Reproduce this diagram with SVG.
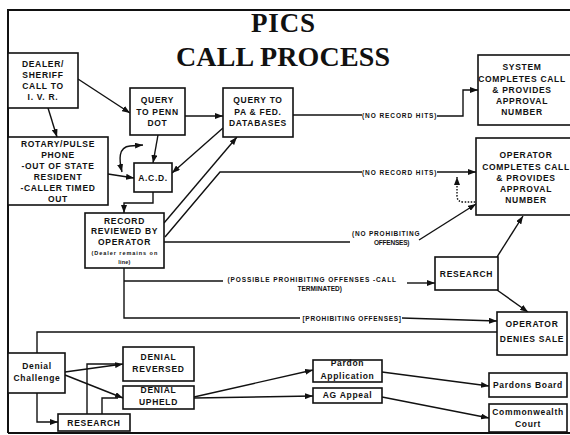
<svg xmlns="http://www.w3.org/2000/svg" width="570" height="435" viewBox="0 0 570 435">
<style>
.b{fill:#fff;stroke:#111;stroke-width:1.6}
.t{font-family:"Liberation Sans",Arial,sans-serif;font-weight:bold;font-size:8.5px;letter-spacing:0.7px;text-anchor:middle;fill:#111}
.s{font-family:"Liberation Sans",Arial,sans-serif;font-weight:bold;font-size:6.5px;letter-spacing:0.5px;text-anchor:middle;fill:#111}
.ttl{font-family:"Liberation Serif","Times New Roman",serif;font-weight:bold;text-anchor:middle;fill:#111}
.c{fill:none;stroke:#111;stroke-width:1.4}
.a{marker-end:url(#ar)}
.d{stroke-dasharray:1.5 1.5}
</style>
<defs>
<marker id="ar" markerUnits="userSpaceOnUse" markerWidth="8" markerHeight="6" refX="8" refY="3" orient="auto-start-reverse"><path d="M0,0 L8,3 L0,6 z" fill="#111"/></marker>
</defs>
<rect width="570" height="435" fill="#fff"/>
<g id="frame" fill="none" stroke="#111" stroke-width="2">
<path d="M8,433 L8,10 L572,10"/>
<path d="M8,433 L572,433"/>
</g>
<g id="title">
<text class="ttl" x="283" y="32" font-size="27" textLength="64">PICS</text>
<text class="ttl" x="283" y="66" font-size="28" textLength="214">CALL PROCESS</text>
</g>
<g id="connectors">
<path class="c a" d="M78,79 L130,113"/>
<path class="c a" d="M48,108 L57,137"/>
<path class="c a" d="M185,116 L223,116"/>
<path class="c a" d="M158,135 L153,163"/>
<path class="c a" d="M122,172 C119,160 118,147 130,146 L143,145" style="marker-start:url(#ar)"/>
<path class="c a" d="M108,174 L134,178"/>
<path class="c a" d="M153,192 L153,203 L124,203 L124,213"/>
<path class="c a" d="M223,128 L172,173"/>
<path class="c a" d="M164,223 L237,137"/>
<path class="c" d="M165,237 L220,172 L362,172"/>
<path class="c a" d="M437,172 L476,172"/>
<path class="c" d="M164,242 L350,242"/>
<path class="c a" d="M419,240 L476,204"/>
<path class="c d" d="M457,177 L457,196 Q457,202 464,202 L476,202" style="marker-start:url(#ar)"/>
<path class="c a" d="M497,257 L523,216"/>
<path class="c" d="M124,268 L124,318 L300,318"/>
<path class="c a" d="M402,318 L497,321"/>
<path class="c" d="M124,281 L223,281"/>
<path class="c a" d="M407,283 L435,283"/>
<path class="c a" d="M497,290 L528,312"/>
<path class="c" d="M37,353 L37,332 L497,332"/>
<path class="c a" d="M65,372 L123,364"/>
<path class="c a" d="M65,375 L123,398"/>
<path class="c a" d="M37,393 L37,422 L58,422"/>
<path class="c" d="M87,414 L87,364 L118,364"/>
<path class="c" d="M102,414 L102,398 L118,398"/>
<path class="c a" d="M194,397 L313,370"/>
<path class="c a" d="M194,398 L313,396"/>
<path class="c a" d="M382,372 L489,386"/>
<path class="c a" d="M382,397 L489,418"/>
<path class="c" d="M293,115 L362,115"/>
<path class="c a" d="M437,116 L463,116 L463,90 L478,90"/>
</g>
<g id="labels">
<text class="s" x="399.5" y="117.5" textLength="75">(NO RECORD HITS)</text>
<text class="s" x="399.5" y="174.5" textLength="75">(NO RECORD HITS)</text>
<text class="s" x="386" y="235.5" textLength="68">(NO PROHIBITING</text>
<text class="s" x="392" y="244.5" textLength="36">OFFENSES)</text>
<text class="s" x="312" y="281.5" textLength="169">(POSSIBLE PROHIBITING OFFENSES -CALL</text>
<text class="s" x="320" y="291" textLength="45">TERMINATED)</text>
<text class="s" x="352" y="320.5" textLength="99">[PROHIBITING OFFENSES]</text>
</g>
<g id="dealer"><rect class="b" x="8" y="53" width="70" height="55"/>
<text class="t" x="43" y="67">DEALER/</text><text class="t" x="43" y="78">SHERIFF</text><text class="t" x="43" y="89">CALL TO</text><text class="t" x="43" y="100">I. V. R.</text></g>
<g id="penndot"><rect class="b" x="130" y="88" width="55" height="47"/>
<text class="t" x="157.5" y="103">QUERY</text><text class="t" x="157.5" y="115">TO PENN</text><text class="t" x="157.5" y="126">DOT</text></g>
<g id="pafed"><rect class="b" x="223" y="88" width="70" height="49"/>
<text class="t" x="258" y="103">QUERY TO</text><text class="t" x="258" y="115">PA &amp; FED.</text><text class="t" x="258" y="126">DATABASES</text></g>
<g id="system"><rect class="b" x="478" y="55" width="100" height="70"/>
<text class="t" x="522" y="70">SYSTEM</text><text class="t" x="522" y="82">COMPLETES CALL</text><text class="t" x="522" y="93">&amp; PROVIDES</text><text class="t" x="522" y="104">APPROVAL</text><text class="t" x="522" y="115">NUMBER</text></g>
<g id="rotary"><rect class="b" x="8" y="137" width="100" height="68"/>
<text class="t" x="58" y="147">ROTARY/PULSE</text><text class="t" x="58" y="158">PHONE</text><text class="t" x="58" y="169">-OUT OF STATE</text><text class="t" x="58" y="180">RESIDENT</text><text class="t" x="58" y="191">-CALLER TIMED</text><text class="t" x="58" y="202">OUT</text></g>
<g id="acd"><rect class="b" x="134" y="163" width="38" height="29"/>
<text class="t" x="153" y="181">A.C.D.</text></g>
<g id="record"><rect class="b" x="85" y="213" width="79" height="55"/>
<text class="t" x="124.5" y="223.5">RECORD</text><text class="t" x="124.5" y="234">REVIEWED BY</text><text class="t" x="124.5" y="244.5">OPERATOR</text>
<text class="s" x="124.5" y="254.5" style="font-size:5.5px;letter-spacing:0.2px" textLength="66">(Dealer remains on</text><text class="s" x="124.5" y="264" style="font-size:5.5px;letter-spacing:0.2px">line)</text></g>
<g id="opcomplete"><rect class="b" x="476" y="138" width="100" height="77"/>
<text class="t" x="526" y="158">OPERATOR</text><text class="t" x="526" y="170">COMPLETES CALL</text><text class="t" x="526" y="181">&amp; PROVIDES</text><text class="t" x="526" y="192">APPROVAL</text><text class="t" x="526" y="203">NUMBER</text></g>
<g id="research1"><rect class="b" x="435" y="257" width="63" height="33"/>
<text class="t" x="466.5" y="276.5">RESEARCH</text></g>
<g id="denies"><rect class="b" x="497" y="312" width="70" height="43"/>
<text class="t" x="532" y="327">OPERATOR</text><text class="t" x="532" y="342">DENIES SALE</text></g>
<g id="challenge"><rect class="b" x="8" y="353" width="57" height="40"/>
<text class="t" x="37" y="369">Denial</text><text class="t" x="37" y="381">Challenge</text></g>
<g id="reversed"><rect class="b" x="123" y="347" width="71" height="34"/>
<text class="t" x="158.5" y="360">DENIAL</text><text class="t" x="158.5" y="372">REVERSED</text></g>
<g id="upheld"><rect class="b" x="123" y="386" width="71" height="23"/>
<text class="t" x="158.5" y="393">DENIAL</text><text class="t" x="158.5" y="405">UPHELD</text></g>
<g id="research2"><rect class="b" x="58" y="414" width="72" height="17"/>
<text class="t" x="94" y="426">RESEARCH</text></g>
<g id="pardon"><rect class="b" x="313" y="360" width="69" height="22"/>
<text class="t" x="347.5" y="366">Pardon</text><text class="t" x="347.5" y="379">Application</text></g>
<g id="agappeal"><rect class="b" x="313" y="388" width="69" height="15"/>
<text class="t" x="347.5" y="398">AG Appeal</text></g>
<g id="pardonsboard"><rect class="b" x="489" y="373" width="78" height="24"/>
<text class="t" x="528" y="388">Pardons Board</text></g>
<g id="commonwealth"><rect class="b" x="489" y="404" width="78" height="28"/>
<text class="t" x="528" y="415">Commonwealth</text><text class="t" x="528" y="427">Court</text></g>
</svg>
